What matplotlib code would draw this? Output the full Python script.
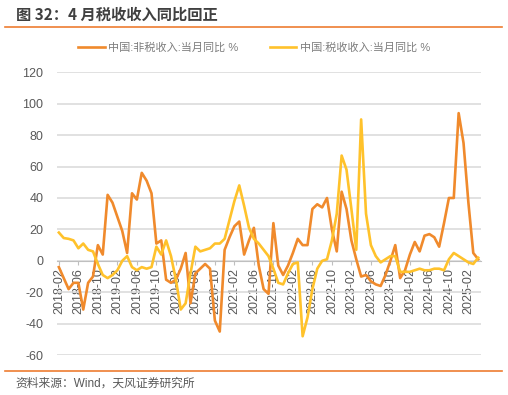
import pandas as pd
import matplotlib
matplotlib.use('Agg')
import matplotlib.pyplot as plt
from matplotlib.lines import Line2D

plt.rcParams['font.family'] = ['Liberation Sans', 'Noto Sans CJK SC', 'DejaVu Sans']
plt.rcParams['axes.unicode_minus'] = False

months = pd.date_range('2018-02-01', periods=87, freq='MS').strftime('%Y-%m').tolist()

non_tax = [-4, -11, -18, -14, -14, -31, -14, -10, 10, 4,
           42, 37, 28, 19, 5, 43, 39, 56, 51, 43,
           11, 13, -12, -14, -12, -5, 5, -27, -8, -5,
           -2, -5, -38, -45, 7, 15, 22, 25, 4, 13,
           21, -3, -18, -21, 24, -3, -9, -3, 5, 14,
           10, 10, 33, 36, 34, 40, 20, 6, 44, 33,
           13, 1, -10, -9, -13, -15, -16, -9, 0, 10,
           -11, -6, 4, 12, 6, 16, 17, 15, 9, 24,
           40, 40, 94, 75, 37, 5, 1]

tax = [18, 14.5, 14, 13, 8, 11, 7, 6, -2, -9,
       -11, -9, -6, 0, 3, -4, -6, -4, -5, -4,
       9, 4, 13, 3, -12, -31, -27, -8, 9, 6,
       7, 8, 11, 11, 14, 26, 38, 48, 35, 21,
       14, 11, 7, 3, -5, -14, -15, -8, -2, -1,
       -48, -36, -18, -5, 0, 1, 13, 30, 67, 58,
       33, 7, 90, 30, 10, 3, -1, 1, 3, 3,
       -7, -7, -7, -6, -5, -6, -6, -5, -5, -6,
       1, 5, 3, 1, -1, -2, 2]

orange = '#F08A2C'
yellow = '#FFC22B'
grey = '#595959'

fig = plt.figure(figsize=(5.08, 3.95), dpi=100)
ax = fig.add_axes([0.113, 0.101, 0.834, 0.716])

x = list(range(len(months)))
ax.plot(x, non_tax, color=orange, lw=1.9, solid_joinstyle='round', zorder=3)
ax.plot(x, tax, color=yellow, lw=1.9, solid_joinstyle='round', zorder=3)

for s in ['left', 'right', 'top']:
    ax.spines[s].set_visible(False)
ax.spines['bottom'].set_position(('data', 0))
ax.spines['bottom'].set_color('#BFBFBF')

ax.set_ylim(-60, 120)
ax.set_yticks(range(-60, 121, 20))
ax.set_xlim(-0.3, 86.6)
ax.set_xticks(x[::4])
ax.set_xticklabels(months[::4], rotation=90, fontsize=9, color=grey)
ax.grid(axis='y', color='#D9D9D9', lw=1.1)
ax.set_axisbelow(True)
ax.tick_params(axis='y', length=0, pad=10, labelsize=9, labelcolor=grey)
ax.tick_params(axis='x', length=3, color='#BFBFBF', pad=2)

# title and frame lines
fig.text(0.031, 0.962, '图 32：4 月税收收入同比回正', fontsize=11, fontweight='bold',
         color='#404040', va='center', ha='left', family=['Noto Sans CJK SC'])
fig.add_artist(Line2D([0.01, 0.988], [0.932, 0.932], color='#ED7D31', lw=1.2))
fig.add_artist(Line2D([0.01, 0.988], [0.062, 0.062], color='#ED7D31', lw=1.2))
fig.text(0.031, 0.030, '资料来源：Wind，天风证券研究所', fontsize=8.5, color=grey,
         va='center', ha='left')

handles = [Line2D([], [], color=orange, lw=1.9), Line2D([], [], color=yellow, lw=1.9)]
fig.legend(handles, ['中国:非税收入:当月同比 %', '中国:税收收入:当月同比 %'],
           loc='center', bbox_to_anchor=(0.5, 0.88), ncol=2, frameon=False,
           fontsize=8, labelcolor='#7F7F7F', handlelength=2.4, handletextpad=0.3,
           columnspacing=2.8)

fig.savefig('out.png', dpi=100)
